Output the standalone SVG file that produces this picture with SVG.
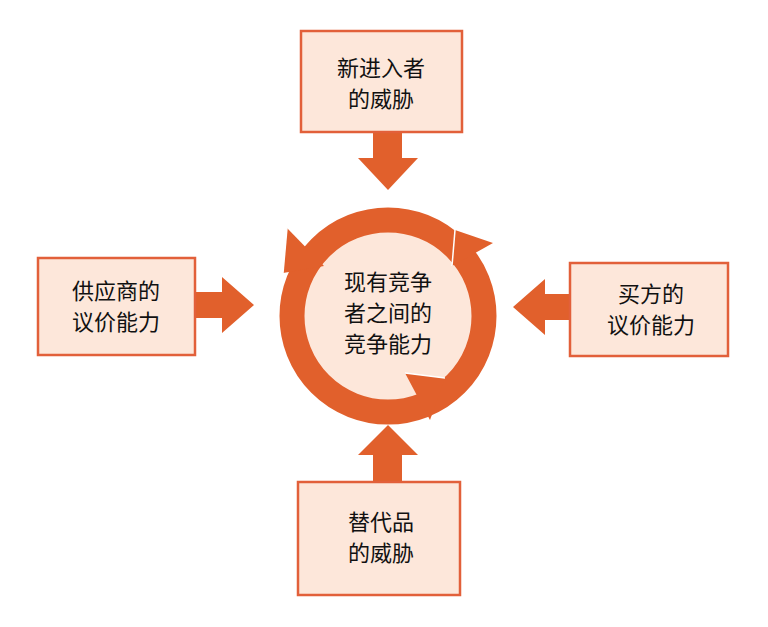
<svg xmlns="http://www.w3.org/2000/svg" width="768" height="627" viewBox="0 0 768 627">
<style>
.box{fill:#fde7da;stroke:#e2603a;stroke-width:2.5}
.t{font-family:"Noto Sans CJK SC",sans-serif;font-size:22px;fill:#111;text-anchor:middle}
.o{fill:#e1602c}
</style>
<rect width="768" height="627" fill="#fff"/>
<g id="connectors">
<polygon class="o" points="373,132 402,132 402,158 418,158 388,190 358,158 373,158"/>
<polygon class="o" points="195,292 222,292 222,277 254,305 222,333 222,318 195,318"/>
<polygon class="o" points="570,294 545,294 545,279 513,307 545,335 545,320 570,320"/>
<polygon class="o" points="373,482 402,482 402,455 418,455 388,425 358,455 373,455"/>
</g>
<g id="center">
<circle cx="388" cy="316" r="96" fill="#fde7da" stroke="#e1602c" stroke-width="25"/>
<polygon class="o" points="287,228 324,266 283,273"/>
<line x1="287" y1="228" x2="283" y2="273" stroke="#fff" stroke-width="1.5"/>
<polygon class="o" points="455,230 493,243 452,266"/>
<line x1="455" y1="230" x2="452" y2="266" stroke="#fff" stroke-width="1.5"/>
<polygon class="o" points="405,373 445,378 430,420"/>
<line x1="405" y1="373" x2="445" y2="378" stroke="#fff" stroke-width="1.5"/>
<text class="t" x="388" y="290">现有竞争</text>
<text class="t" x="388" y="321">者之间的</text>
<text class="t" x="388" y="352">竞争能力</text>
</g>
<g id="top"><rect class="box" x="301" y="31" width="161" height="101"/>
<text class="t" x="381" y="76">新进入者</text><text class="t" x="381" y="107">的威胁</text></g>
<g id="left"><rect class="box" x="38" y="258" width="157" height="97"/>
<text class="t" x="116" y="299">供应商的</text><text class="t" x="116" y="330">议价能力</text></g>
<g id="right"><rect class="box" x="570" y="263" width="158" height="93"/>
<text class="t" x="651" y="302">买方的</text><text class="t" x="651" y="333">议价能力</text></g>
<g id="bottom"><rect class="box" x="298" y="482" width="162" height="113"/>
<text class="t" x="381" y="530">替代品</text><text class="t" x="381" y="561">的威胁</text></g>
</svg>
